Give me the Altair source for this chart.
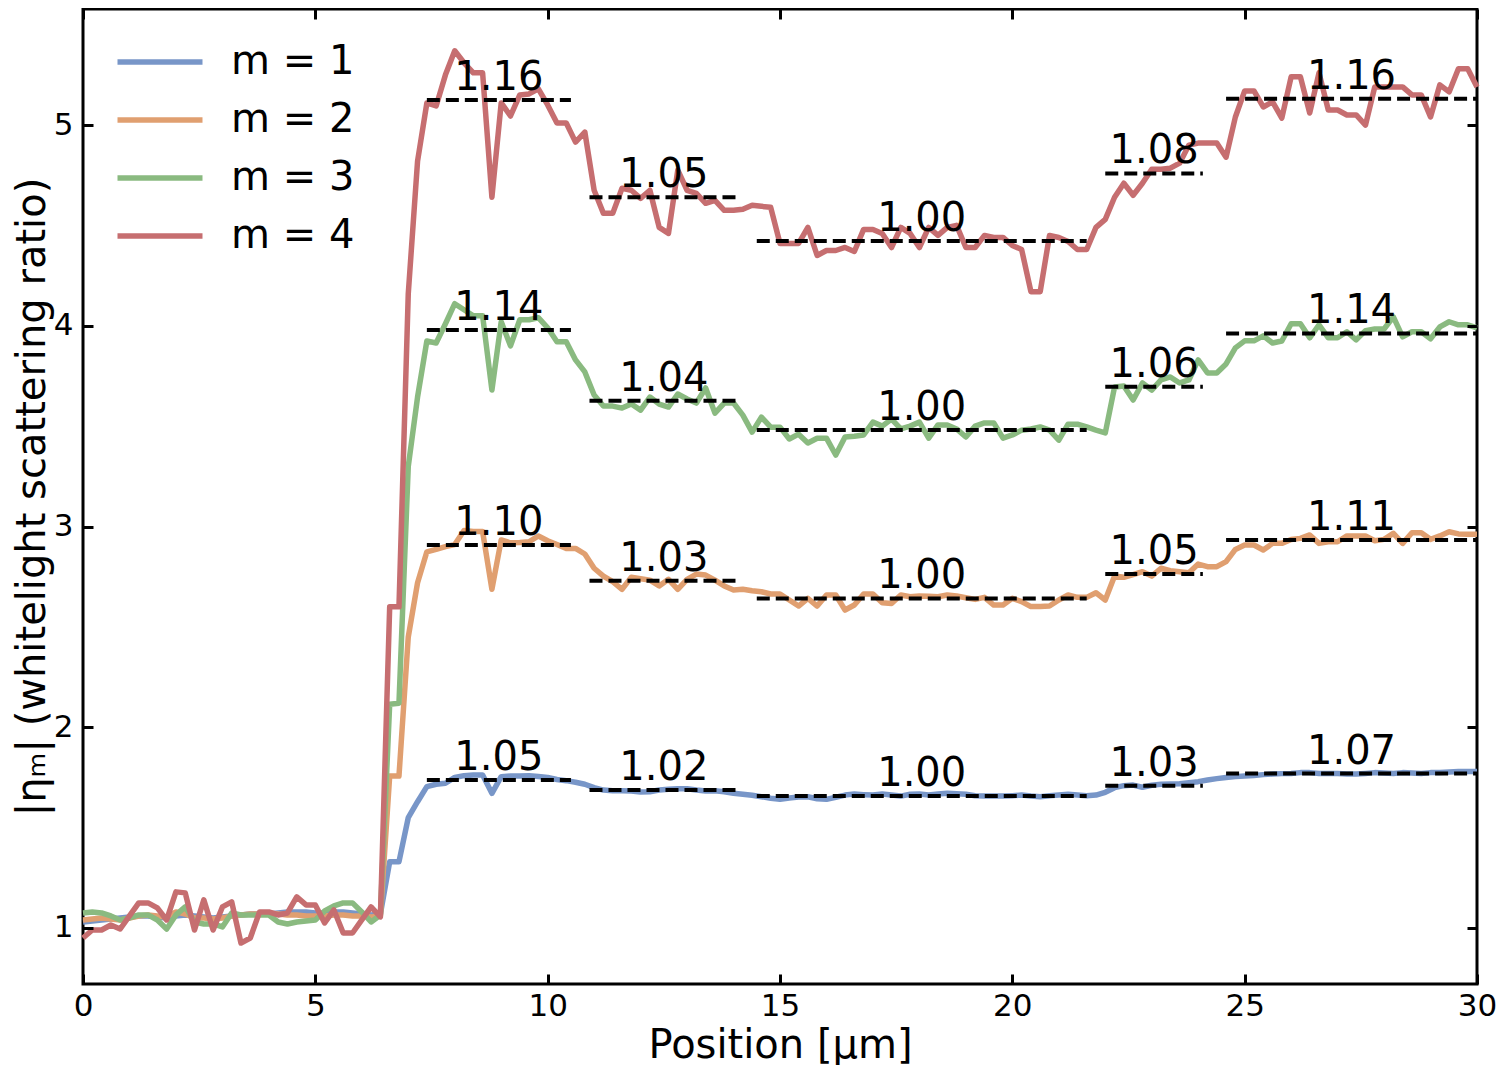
import altair as alt
import pandas as pd

# ---------------- data ----------------
position = [round(0.2 * i, 1) for i in range(151)]  # µm, sampling grid

m1 = [
    1.03, 1.035, 1.04, 1.045, 1.05, 1.055, 1.06, 1.06, 1.055, 1.05,
    1.06, 1.065, 1.06, 1.055, 1.05, 1.055, 1.06, 1.065, 1.07, 1.07,
    1.07, 1.075, 1.08, 1.08, 1.08, 1.075, 1.075, 1.08, 1.08, 1.075,
    1.07, 1.065, 1.07, 1.33, 1.33, 1.55, 1.629, 1.704, 1.716, 1.721,
    1.750, 1.759, 1.762, 1.762, 1.671, 1.754, 1.757, 1.757, 1.759, 1.755,
    1.750, 1.740, 1.734, 1.726, 1.716, 1.699, 1.687, 1.684, 1.684, 1.682,
    1.677, 1.679, 1.687, 1.691, 1.694, 1.694, 1.687, 1.682, 1.684, 1.679,
    1.671, 1.666, 1.661, 1.654, 1.646, 1.641, 1.648, 1.652, 1.654, 1.644,
    1.641, 1.651, 1.662, 1.667, 1.664, 1.662, 1.667, 1.662, 1.657, 1.666,
    1.667, 1.662, 1.667, 1.671, 1.669, 1.666, 1.659, 1.657, 1.657, 1.657,
    1.659, 1.662, 1.657, 1.654, 1.659, 1.662, 1.666, 1.662, 1.659, 1.662,
    1.676, 1.699, 1.709, 1.712, 1.701, 1.711, 1.716, 1.717, 1.719, 1.724,
    1.729, 1.737, 1.744, 1.750, 1.754, 1.757, 1.760, 1.764, 1.767, 1.769,
    1.770, 1.774, 1.774, 1.770, 1.770, 1.769, 1.767, 1.767, 1.770, 1.774,
    1.772, 1.770, 1.774, 1.772, 1.770, 1.774, 1.775, 1.777, 1.779, 1.779,
    1.779,
]

m2 = [
    1.04, 1.045, 1.05, 1.045, 1.04, 1.05, 1.06, 1.065, 1.06, 1.055,
    1.08, 1.07, 1.05, 1.05, 1.045, 1.05, 1.06, 1.065, 1.07, 1.07,
    1.075, 1.07, 1.065, 1.065, 1.06, 1.06, 1.06, 1.065, 1.065, 1.06,
    1.06, 1.055, 1.06, 1.757, 1.757, 2.45, 2.72, 2.874, 2.886, 2.90,
    2.91, 2.98, 2.975, 2.975, 2.687, 2.933, 2.919, 2.92, 2.924, 2.953,
    2.929, 2.91, 2.891, 2.891, 2.863, 2.792, 2.753, 2.725, 2.687, 2.747,
    2.74, 2.733, 2.704, 2.737, 2.687, 2.737, 2.763, 2.758, 2.733, 2.704,
    2.684, 2.687, 2.68, 2.675, 2.664, 2.664, 2.634, 2.604, 2.642, 2.604,
    2.659, 2.659, 2.584, 2.609, 2.664, 2.664, 2.62, 2.617, 2.659, 2.650,
    2.654, 2.652, 2.650, 2.659, 2.654, 2.645, 2.637, 2.647, 2.609, 2.609,
    2.642, 2.626, 2.601, 2.602, 2.604, 2.634, 2.659, 2.647, 2.647, 2.670,
    2.634, 2.753, 2.747, 2.76, 2.775, 2.753, 2.792, 2.780, 2.775, 2.770,
    2.813, 2.800, 2.800, 2.825, 2.886, 2.908, 2.908, 2.883, 2.916, 2.916,
    2.935, 2.941, 2.958, 2.916, 2.924, 2.924, 2.953, 2.953, 2.953, 2.929,
    2.936, 2.966, 2.916, 2.969, 2.969, 2.936, 2.953, 2.974, 2.963, 2.962,
    2.961,
]

m3 = [
    1.075, 1.08, 1.075, 1.06, 1.04, 1.05, 1.065, 1.065, 1.04, 0.995,
    1.065, 1.105, 1.03, 1.02, 1.02, 1.005, 1.075, 1.065, 1.065, 1.065,
    1.065, 1.03, 1.02, 1.03, 1.035, 1.04, 1.085, 1.11, 1.125, 1.125,
    1.08, 1.03, 1.065, 2.115, 2.12, 3.30, 3.645, 3.924, 3.914, 4.01,
    4.11, 4.08, 4.05, 4.05, 3.68, 4.02, 3.90, 4.03, 4.03, 4.04,
    3.99, 3.92, 3.92, 3.83, 3.77, 3.655, 3.60, 3.60, 3.59, 3.61,
    3.58, 3.645, 3.61, 3.595, 3.66, 3.635, 3.615, 3.69, 3.565, 3.615,
    3.615, 3.555, 3.47, 3.545, 3.495, 3.495, 3.436, 3.46, 3.416, 3.44,
    3.44, 3.356, 3.446, 3.45, 3.456, 3.52, 3.50, 3.535, 3.486, 3.50,
    3.52, 3.44, 3.506, 3.506, 3.486, 3.446, 3.50, 3.516, 3.516, 3.44,
    3.456, 3.48, 3.486, 3.496, 3.48, 3.43, 3.51, 3.51, 3.496, 3.48,
    3.466, 3.695, 3.70, 3.63, 3.715, 3.68, 3.73, 3.745, 3.715, 3.73,
    3.83, 3.765, 3.765, 3.81, 3.89, 3.925, 3.925, 3.95, 3.914, 3.924,
    4.01, 4.01, 3.94, 4.005, 3.94, 3.94, 3.97, 3.93, 3.976, 3.984,
    3.984, 4.044, 3.945, 3.97, 3.97, 3.935, 3.994, 4.02, 4.005, 4.005,
    3.99,
]

m4 = [
    0.95, 0.99, 0.99, 1.015, 0.995, 1.06, 1.125, 1.125, 1.10, 1.04,
    1.18, 1.175, 0.99, 1.14, 0.99, 1.105, 1.13, 0.925, 0.95, 1.08,
    1.08, 1.065, 1.075, 1.155, 1.115, 1.115, 1.025, 1.09, 0.975, 0.975,
    1.04, 1.105, 1.055, 2.60, 2.60, 4.16, 4.82, 5.11, 5.095, 5.25,
    5.37, 5.31, 5.26, 5.26, 4.64, 5.11, 5.045, 5.15, 5.155, 5.18,
    5.10, 5.01, 5.01, 4.915, 4.965, 4.675, 4.56, 4.56, 4.685, 4.675,
    4.635, 4.675, 4.49, 4.46, 4.775, 4.675, 4.66, 4.61, 4.625, 4.575,
    4.575, 4.58, 4.60, 4.595, 4.59, 4.41, 4.41, 4.41, 4.49, 4.35,
    4.375, 4.375, 4.39, 4.37, 4.48, 4.48, 4.46, 4.39, 4.49, 4.46,
    4.39, 4.49, 4.45, 4.49, 4.50, 4.39, 4.39, 4.45, 4.44, 4.44,
    4.40, 4.38, 4.17, 4.17, 4.45, 4.44, 4.42, 4.38, 4.38, 4.49,
    4.53, 4.64, 4.71, 4.65, 4.71, 4.78, 4.78, 4.785, 4.81, 4.90,
    4.91, 4.91, 4.91, 4.84, 5.04, 5.17, 5.17, 5.09, 5.115, 5.035,
    5.24, 5.24, 5.06, 5.26, 5.075, 5.075, 5.05, 5.05, 5.00, 5.19,
    5.19, 5.19, 5.19, 5.15, 5.15, 5.04, 5.20, 5.165, 5.28, 5.28,
    5.19,
]

series_names = ["m = 1", "m = 2", "m = 3", "m = 4"]
series_values = [m1, m2, m3, m4]
series_colors = ["#7896c8", "#e09f70", "#8aba80", "#c66e70"]

# plateau (dashed) segments
seg_start = [7.4, 10.9, 14.5, 22.0, 24.6]
seg_end = [10.5, 14.1, 21.6, 24.1, 30.0]
seg_levels = [
    [1.737, 1.688, 1.658, 1.709, 1.769],   # m = 1
    [2.908, 2.730, 2.642, 2.763, 2.933],   # m = 2
    [3.979, 3.627, 3.481, 3.696, 3.962],   # m = 3
    [5.125, 4.640, 4.422, 4.759, 5.131],   # m = 4
]
seg_labels = [
    ["1.05", "1.02", "1.00", "1.03", "1.07"],
    ["1.10", "1.03", "1.00", "1.05", "1.11"],
    ["1.14", "1.04", "1.00", "1.06", "1.14"],
    ["1.16", "1.05", "1.00", "1.08", "1.16"],
]

x_ticks = [0, 5, 10, 15, 20, 25, 30]
y_ticks = [1, 2, 3, 4, 5]

# ---------------- tables ----------------
rows = []
for name, vals in zip(series_names, series_values):
    for p, v in zip(position, vals):
        rows.append({"series": name, "position": p, "value": v})
line_df = pd.DataFrame(rows)

seg_rows = []
for name, lv, lb in zip(series_names, seg_levels, seg_labels):
    for s, e, l, t in zip(seg_start, seg_end, lv, lb):
        seg_rows.append({"series": name, "x0": s, "x1": e, "mid": (s + e) / 2,
                         "level": l, "label": t})
seg_df = pd.DataFrame(seg_rows)

# ---------------- chart ----------------
W, H = 1394, 975
TICK = 10
FONT = "DejaVu Sans"

xs = alt.Scale(domain=[0, 30], nice=False, zero=False)
ys = alt.Scale(domain=[0.721, 5.578], nice=False, zero=False)

xaxis = alt.Axis(
    values=x_ticks, format="d", title="Position [μm]",
    labelFontSize=31, titleFontSize=40, titleFontWeight="normal",
    labelFont=FONT, titleFont=FONT, labelColor="black", titleColor="black",
    ticks=False, domain=False, grid=True, gridColor="black", gridWidth=3,
    gridOpacity=1, gridDash=[TICK, H - 2 * TICK, TICK, 3000],
    labelPadding=7, titlePadding=4, labelFlush=False, labelOverlap=False,
    zindex=1,
)
yaxis = alt.Axis(
    values=y_ticks, format="d", title="|ηₘ| (whitelight scattering ratio)",
    labelFontSize=31, titleFontSize=40, titleFontWeight="normal",
    labelFont=FONT, titleFont=FONT, labelColor="black", titleColor="black",
    ticks=False, domain=False, grid=True, gridColor="black", gridWidth=3,
    gridOpacity=1, gridDash=[TICK, W - 2 * TICK, TICK, 3000],
    labelPadding=10, titlePadding=1, labelOverlap=False,
    zindex=1,
)

# legend symbol: a horizontal stroke twice as wide as the nominal symbol size
LEG_SYMBOL = "M-2,0H2"

lines = alt.Chart(line_df).mark_line(strokeWidth=5.5, strokeJoin="round").encode(
    x=alt.X("position:Q", scale=xs, axis=xaxis),
    y=alt.Y("value:Q", scale=ys, axis=yaxis),
    color=alt.Color(
        "series:N",
        scale=alt.Scale(domain=series_names, range=series_colors),
        legend=alt.Legend(
            title=None, orient="none", legendX=53, legendY=29,
            symbolType=LEG_SYMBOL, symbolSize=1806, symbolStrokeWidth=5.5,
            symbolFillColor="transparent",
            labelFontSize=40, labelFont=FONT, labelColor="black",
            labelOffset=47, rowPadding=14, padding=0, labelLimit=0,
        ),
    ),
)

rules = alt.Chart(seg_df).mark_rule(
    color="black", strokeWidth=4, strokeDash=[13, 6]
).encode(
    x=alt.X("x0:Q", scale=xs, axis=xaxis),
    x2="x1:Q",
    y=alt.Y("level:Q", scale=ys, axis=yaxis),
)

texts = alt.Chart(seg_df).mark_text(
    fontSize=40, font=FONT, color="black", align="center",
    baseline="alphabetic", dy=-10,
).encode(
    x=alt.X("mid:Q", scale=xs, axis=xaxis),
    y=alt.Y("level:Q", scale=ys, axis=yaxis),
    text="label:N",
)

chart = alt.layer(lines, rules, texts).properties(
    width=W, height=H,
    padding={"left": 75, "top": 1, "right": 20, "bottom": 81},
    autosize=alt.AutoSizeParams(type="none"),
).configure(font=FONT).configure_view(stroke="black", strokeWidth=3)

chart.save("out.html", embed_options={"renderer": "svg", "actions": False})
